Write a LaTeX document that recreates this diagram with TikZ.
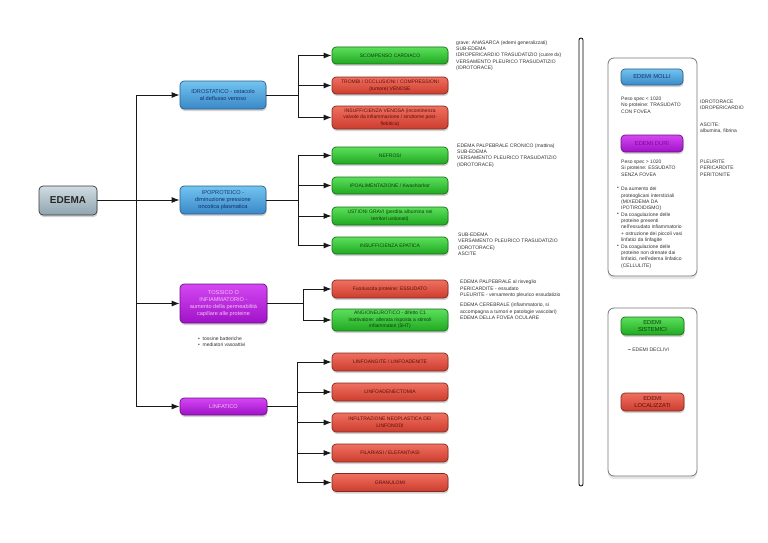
\documentclass[tikz,border=0pt]{standalone}
\usepackage{fontspec}
\setmainfont{Liberation Sans}
\usetikzlibrary{arrows.meta,shadows,calc}
\definecolor{bluetop}{HTML}{72C4F0}
\definecolor{bluebot}{HTML}{3A88C8}
\definecolor{blueline}{HTML}{2C5F86}
\definecolor{bluetext}{HTML}{12306A}
\definecolor{greentop}{HTML}{5CE05C}
\definecolor{greenbot}{HTML}{20A820}
\definecolor{greenline}{HTML}{1B6E1B}
\definecolor{greentext}{HTML}{0C3F0C}
\definecolor{redtop}{HTML}{F07060}
\definecolor{redbot}{HTML}{CC3D2E}
\definecolor{redline}{HTML}{7E2A20}
\definecolor{redtext}{HTML}{5C0E08}
\definecolor{purtop}{HTML}{D447F2}
\definecolor{purbot}{HTML}{A012C8}
\definecolor{purline}{HTML}{6A1280}
\definecolor{purtext}{HTML}{F4C0F4}
\definecolor{purdark}{HTML}{7A0A90}
\definecolor{greytop}{HTML}{D0DCE2}
\definecolor{greybot}{HTML}{8FA4AE}
\definecolor{greyline}{HTML}{3A3A3A}
\definecolor{notegray}{HTML}{333333}
\definecolor{panelline}{HTML}{777777}
\newcommand\myfN{\fontsize{5}{6.3}\selectfont}
\newcommand\myfB{\fontsize{5}{6.6}\selectfont}
\newcommand\myfL{\fontsize{5.6}{7}\selectfont}
\newcommand\myfR{\fontsize{5.8}{7}\selectfont}
\tikzset{
  nbox/.style={draw, rounded corners=4pt, line width=0.7pt, inner sep=1pt, align=center,
    drop shadow={opacity=0.35, shadow xshift=0.6pt, shadow yshift=-2pt}},
  nblue/.style={nbox, top color=bluetop, bottom color=bluebot, draw=blueline, text=bluetext},
  ngreen/.style={nbox, top color=greentop, bottom color=greenbot, draw=greenline, text=greentext},
  nred/.style={nbox, top color=redtop, bottom color=redbot, draw=redline, text=redtext},
  npur/.style={nbox, top color=purtop, bottom color=purbot, draw=purline, text=purtext},
  ngrey/.style={nbox, top color=greytop, bottom color=greybot, draw=greyline, text=black!85},
  lvtwo/.style={minimum width=116pt, font=\myfB},
  lvone/.style={minimum width=86pt, font=\myfL},
  rbox/.style={minimum width=62pt, font=\myfR},
  note/.style={anchor=north west, inner sep=0pt, align=left, font=\myfN, text=notegray},
  ln/.style={draw=black!90, line width=1pt},
  arr/.style={ln, -{Latex[length=8pt,width=6pt]}},
  panel/.style={draw=panelline, fill=white, line width=0.8pt, rounded corners=6pt,
    drop shadow={opacity=0.2, shadow xshift=0pt, shadow yshift=-3pt}}
}
\begin{document}
\begin{tikzpicture}[x=1pt,y=-1pt]
\useasboundingbox[fill=white] (0,0) rectangle (768,543);

% right panels
\draw[panel] (608,58) rectangle (697,276);
\draw[panel] (608,308) rectangle (697,476);
% vertical separator
\draw[line width=0.8pt, rounded corners=2pt] (579,38) rectangle (583,486);

% root
\node[ngrey, minimum width=58pt, minimum height=29pt, font=\fontsize{10}{12}\selectfont\bfseries] (edema) at (68,200.5) {EDEMA};

% level 1
\node[nblue, lvone, minimum height=28pt] (idro) at (223,95) {IDROSTATICO - ostacolo\\al deflusso venoso};
\node[nblue, lvone, minimum height=28pt] (ipo) at (223,200) {IPOPROTEICO -\\diminuzione pressione\\oncotica plasmatica};
\node[npur, lvone, minimum width=87pt, minimum height=39pt] (toss) at (223.5,303.5) {TOSSICO O\\INFIAMMATORIO -\\aumento della permeabilità\\capillare alle proteine};
\node[npur, lvone, minimum width=87pt, minimum height=17pt] (linf) at (223.5,406.5) {LINFATICO};

% level 2 - idrostatico
\node[ngreen, lvtwo, minimum height=17pt] (scomp) at (390,55.5) {SCOMPENSO CARDIACO};
\node[nred, lvtwo, minimum height=17pt] (trombi) at (390,85.5) {TROMBI / OCCLUSIONI / COMPRESSIONI\\(tumore) VENOSE};
\node[nred, lvtwo, minimum height=23pt] (insv) at (390,117.5) {INSUFFICIENZA VENOSA (incontinenza\\valvole da infiammazione / sindrome post-\\flebitica)};
% level 2 - ipoproteico
\node[ngreen, lvtwo, minimum height=17pt] (nefr) at (390,155.5) {NEFROSI};
\node[ngreen, lvtwo, minimum height=17pt] (ipoal) at (390,185.5) {IPOALIMENTAZIONE / Kwashiorkor};
\node[ngreen, lvtwo, minimum height=18pt] (ust) at (390,216) {USTIONI GRAVI (perdita albumina nei\\territori ustionati)};
\node[ngreen, lvtwo, minimum height=17pt] (epat) at (390,245.5) {INSUFFICIENZA EPATICA};
% level 2 - tossico
\node[nred, lvtwo, minimum height=18pt] (fuor) at (390,289) {Fuoriuscita proteine: ESSUDATO};
\node[ngreen, lvtwo, minimum height=22pt] (angio) at (390,320) {ANGIONEUROTICO - difetto C1\\inattivatore: alterata risposta a stimoli\\infiammatori (5HT)};
% level 2 - linfatico
\node[nred, lvtwo, minimum height=18pt] (lang) at (390,362) {LINFOANGITE / LINFOADENITE};
\node[nred, lvtwo, minimum height=18pt] (lade) at (390,392) {LINFOADENECTOMIA};
\node[nred, lvtwo, minimum height=19pt] (infil) at (390,422.5) {INFILTRAZIONE NEOPLASTICA DEI\\LINFONODI};
\node[nred, lvtwo, minimum height=18pt] (filar) at (390,453) {FILARIASI / ELEFANTIASI};
\node[nred, lvtwo, minimum height=18pt] (granu) at (390,482.5) {GRANULOMI};

% connectors root -> level 1
\draw[ln] (edema.east) -- ++(39pt,0) coordinate (tr);
\draw[ln] (tr |- idro.west) -- (tr |- linf.west);
\foreach \n in {idro,ipo,toss,linf} \draw[arr] (tr |- \n.west) -- (\n.west);

% brackets
\draw[ln] (idro.east) -- ++(32pt,0) coordinate (b1);
\draw[ln] (b1 |- scomp.west) -- (b1 |- insv.west);
\foreach \n in {scomp,trombi,insv} \draw[arr] (b1 |- \n.west) -- (\n.west);

\draw[ln] (ipo.east) -- ++(32pt,0) coordinate (b2);
\draw[ln] (b2 |- nefr.west) -- (b2 |- epat.west);
\foreach \n in {nefr,ipoal,ust,epat} \draw[arr] (b2 |- \n.west) -- (\n.west);

\draw[ln] (toss.east) -- ++(36pt,0) coordinate (b3);
\draw[ln] (b3 |- fuor.west) -- (b3 |- angio.west);
\foreach \n in {fuor,angio} \draw[arr] (b3 |- \n.west) -- (\n.west);

\draw[ln] (linf.east) -- ++(30pt,0) coordinate (b4);
\draw[ln] (b4 |- lang.west) -- (b4 |- granu.west);
\foreach \n in {lang,lade,infil,filar,granu} \draw[arr] (b4 |- \n.west) -- (\n.west);

% notes
\node[note] (n1) at (456,40.5) {grave: ANASARCA (edemi generalizzati)\\SUB-EDEMA\\IDROPERICARDIO TRASUDATIZIO (cuore dx)\\VERSAMENTO PLEURICO TRASUDATIZIO\\(IDROTORACE)};
\node[note] (n2) at (457,143.5) {EDEMA PALPEBRALE CRONICO (mattina)\\SUB-EDEMA\\VERSAMENTO PLEURICO TRASUDATIZIO\\(IDROTORACE)};
\node[note] (n3) at (458,233) {SUB-EDEMA\\VERSAMENTO PLEURICO TRASUDATIZIO\\(IDROTORACE)\\ASCITE};
\node[note] (n4) at (460,280) {EDEMA PALPEBRALE al risveglio\\PERICARDITE - essudato\\PLEURITE - versamento pleurico essudatizio};
\node[note] (n5) at (460,303) {EDEMA CEREBRALE (infiammatorio, si\\accompagna a tumori e patologie vascolari)\\EDEMA DELLA FOVEA OCULARE};
\node[note] (n6) at (198,336.5) {\textbullet\ \ tossine batteriche\\\textbullet\ \ mediatori vasoattivi};

% right panel 1
\node[nblue, rbox, minimum height=16pt] (molli) at (652,77) {EDEMI MOLLI};
\node[note] (m1) at (621,97) {Peso spec < 1020\\No proteine: TRASUDATO\\CON FOVEA};
\node[note] (m2) at (700,100) {IDROTORACE\\IDROPERICARDIO};
\node[note] (m3) at (700,123) {ASCITE:\\albumina, fibrina};
\node[npur, rbox, minimum height=17pt, text=purdark] (duri) at (652,143.5) {EDEMI DURI};
\node[note] (d1) at (621,160) {Peso spec > 1020\\Si proteine: ESSUDATO\\SENZA FOVEA};
\node[note] (d2) at (700,160) {PLEURITE\\PERICARDITE\\PERITONITE};
\node[note] (bl1) at (621,187) {Da aumento dei\\proteoglicani interstiziali\\(MIXEDEMA DA\\IPOTIROIDISMO)};
\node[note] (bl2) at (621,212.5) {Da coagulazione delle\\proteine presenti\\nell'essudato infiammatorio\\+ ostruzione dei piccoli vasi\\linfatici da linfagite};
\node[note] (bl3) at (621,244.5) {Da coagulazione delle\\proteine non drenate dai\\linfatici, nell'edema linfatico\\(CELLULITE)};
\foreach \b in {bl1,bl2,bl3} \node[note, anchor=north east] at ([xshift=-2pt]\b.north west) {\textbullet};

% right panel 2
\node[ngreen, rbox, minimum width=63pt, minimum height=18pt] (sist) at (652.5,326) {EDEMI\\SISTEMICI};
\node[note, anchor=west] (decl) at (628,350) {{\bfseries\color{black}–} EDEMI DECLIVI};
\node[nred, rbox, minimum width=63pt, minimum height=18pt] (loc) at (652.5,402) {EDEMI\\LOCALIZZATI};
\end{tikzpicture}
\end{document}
